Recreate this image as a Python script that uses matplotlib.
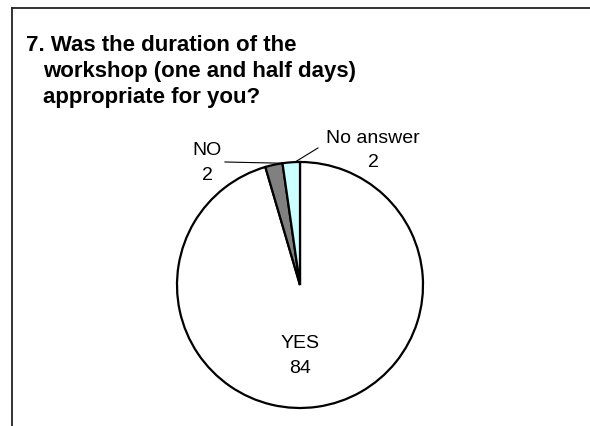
import matplotlib
matplotlib.use("Agg")
import matplotlib.pyplot as plt
from matplotlib.lines import Line2D
import numpy as np

plt.rcParams['font.family'] = ['Liberation Sans', 'DejaVu Sans']

categories = ["YES", "NO", "No answer"]
counts = [84, 2, 2]
colors = ["#FFFFFF", "#808080", "#CCFFFF"]
title_lines = ["7. Was the duration of the",
               "workshop (one and half days)",
               "appropriate for you?"]

W, H = 590, 426
fig = plt.figure(figsize=(W / 100, H / 100), dpi=100)

# chart frame (only top and left visible in the crop)
fig.add_artist(Line2D([12 / W, 1.0], [1 - 8 / H, 1 - 8 / H], color="#222222", lw=1.3))
fig.add_artist(Line2D([12 / W, 12 / W], [0, 1 - 8 / H], color="#222222", lw=1.3))

# title
fig.text(26 / W, 1 - 51 / H, title_lines[0], fontsize=16, fontweight="bold", va="baseline")
fig.text(43 / W, 1 - 77 / H, title_lines[1], fontsize=16, fontweight="bold", va="baseline")
fig.text(43 / W, 1 - 103 / H, title_lines[2], fontsize=16, fontweight="bold", va="baseline")

cx, cy, r = 300, 285, 123
ax = fig.add_axes([(cx - r) / W, (H - cy - r) / H, 2 * r / W, 2 * r / H])
wedges, _ = ax.pie(counts, colors=colors, startangle=90, counterclock=False,
                   wedgeprops=dict(edgecolor="black", linewidth=1.6))
for w in wedges:
    w.set_clip_on(False)
ax.set_xlim(-1, 1)
ax.set_ylim(-1, 1)
ax.axis("off")

fs = 14
# YES label inside
ax.text(0, -0.512, categories[0], ha="center", va="baseline", fontsize=fs)
ax.text(0, -0.715, str(counts[0]), ha="center", va="baseline", fontsize=fs)

# NO label + leader
ax.text(-0.756, 1.057, categories[1], ha="center", va="baseline", fontsize=fs, clip_on=False)
ax.text(-0.756, 0.854, str(counts[1]), ha="center", va="baseline", fontsize=fs, clip_on=False)
ax.add_line(Line2D([-0.61, -0.138], [1.0, 0.99], color="black", lw=0.8, clip_on=False))

# No answer label + leader
ax.text(0.593, 1.154, categories[2], ha="center", va="baseline", fontsize=fs, clip_on=False)
ax.text(0.593, 0.959, str(counts[2]), ha="center", va="baseline", fontsize=fs, clip_on=False)
ax.add_line(Line2D([-0.04, 0.146], [1.0, 1.114], color="black", lw=0.8, clip_on=False))

fig.savefig("out.png", dpi=100)
